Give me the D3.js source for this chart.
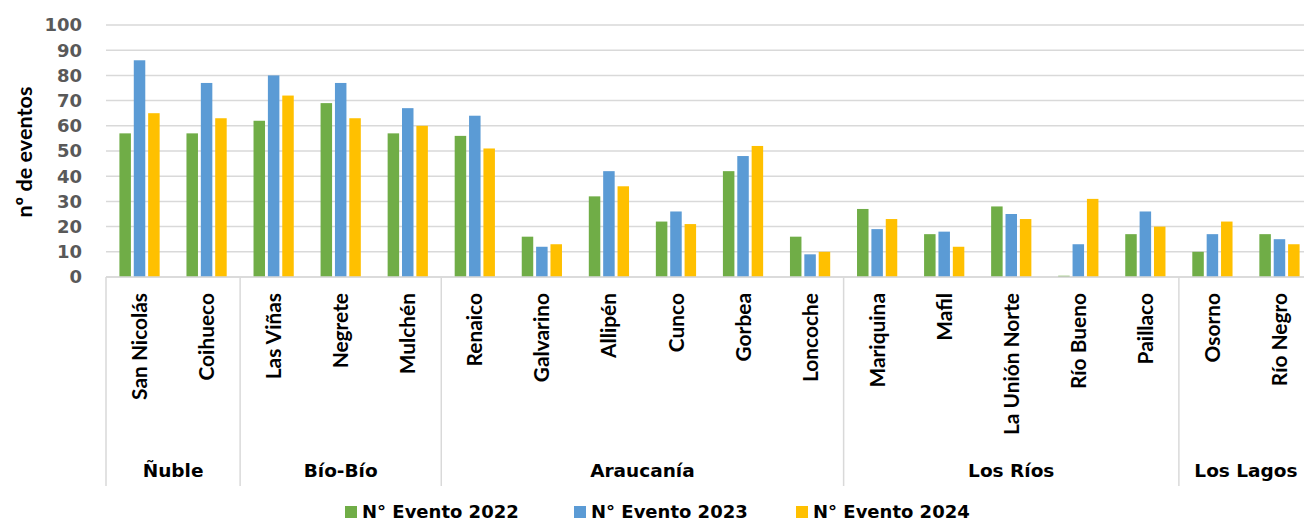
<!DOCTYPE html>
<html><head><meta charset="utf-8">
<script src="https://cdn.jsdelivr.net/npm/d3@7"></script>
<style>
body{margin:0;background:#fff;}
svg{display:block;}
.wide{font-family:"DejaVu Sans",sans-serif;font-weight:bold;}
.narrow{font-family:Lato,"Open Sans",sans-serif;font-weight:bold;}
</style></head>
<body><svg id="c" width="1304" height="523"></svg>
<script>
const categories = ["San Nicolás","Coihueco","Las Viñas","Negrete","Mulchén","Renaico","Galvarino","Allipén","Cunco","Gorbea","Loncoche","Mariquina","Mafil","La Unión Norte","Río Bueno","Paillaco","Osorno","Río Negro"];
const regions = [
  {name:"Ñuble", count:2},
  {name:"Bío-Bío", count:3},
  {name:"Araucanía", count:6},
  {name:"Los Ríos", count:5},
  {name:"Los Lagos", count:2}
];
const seriesNames = ["N° Evento 2022","N° Evento 2023","N° Evento 2024"];
const ev2022 = [57,57,62,69,57,56,16,32,22,42,16,27,17,28,0.5,17,10,17];
const ev2023 = [86,77,80,77,67,64,12,42,26,48,9,19,18,25,13,26,17,15];
const ev2024 = [65,63,72,63,60,51,13,36,21,52,10,23,12,23,31,20,22,13];
const yTicks = [0,10,20,30,40,50,60,70,80,90,100];
const colors = ["#70AD47","#5B9BD5","#FFC000"];
const series = [ev2022, ev2023, ev2024];

(function(){
const svg = d3.select("#c");
const mLeft = 106, mRight = 1313, mTop = 25, mBottom = 277;

const x = d3.scaleBand().domain(categories).range([mLeft, mRight]).paddingInner(0).paddingOuter(0);
const xs = d3.scaleBand().domain(d3.range(3)).range([x.bandwidth()*0.2, x.bandwidth()*0.8]).paddingInner(0.2).paddingOuter(0);
const y = d3.scaleLinear().domain([0,100]).range([mBottom, mTop]);

svg.append("g").selectAll("line").data(yTicks).join("line")
  .attr("x1", mLeft).attr("x2", 1304)
  .attr("y1", d=>y(d)).attr("y2", d=>y(d))
  .attr("stroke", "#d9d9d9").attr("stroke-width", 1.5);

svg.append("g").selectAll("text").data(yTicks).join("text")
  .attr("class","wide")
  .attr("x", 82).attr("y", d=>y(d)).attr("dy","0.36em")
  .attr("text-anchor","end").attr("font-size",18)
  .attr("fill","#595959").text(d=>d);

// y title: size so its length matches
const yt = svg.append("text").attr("class","narrow")
  .attr("transform","translate(24,152) rotate(-90)")
  .attr("text-anchor","middle").attr("dy","0.35em").attr("font-size",20)
  .attr("fill","#000").text("nº de eventos");
const ytl = yt.node().getComputedTextLength();
yt.attr("font-size", 20*131/ytl);

const g = svg.append("g");
series.forEach((s, si) => {
  g.selectAll(null).data(categories).join("rect")
    .attr("x", c => x(c) + xs(si))
    .attr("width", xs.bandwidth())
    .attr("y", (c,i) => y(s[i]))
    .attr("height", (c,i) => y(0) - y(s[i]))
    .attr("fill", colors[si]);
});

const cl = svg.append("g").selectAll("text").data(categories).join("text")
  .attr("class","narrow")
  .attr("transform", c => `translate(${x(c)+x.bandwidth()/2},293) rotate(-90)`)
  .attr("dy","0.36em")
  .attr("text-anchor","end").attr("font-size",20)
  .attr("fill","#000").text(c=>c);
const snl = cl.nodes()[0].getComputedTextLength();
cl.attr("font-size", 20*107/snl);

let idx = 0;
const bounds = [0];
regions.forEach(r => { idx += r.count; bounds.push(idx); });
svg.append("g").selectAll("line").data(bounds.slice(0, bounds.length-1)).join("line")
  .attr("x1", b => x(categories[b]))
  .attr("x2", b => x(categories[b]))
  .attr("y1", mBottom).attr("y2", 486)
  .attr("stroke","#d9d9d9").attr("stroke-width",1.5);
svg.append("g").selectAll("text").data(regions).join("text")
  .attr("class","wide")
  .attr("x", (r,i) => {
    const a = x(categories[bounds[i]]);
    const b = bounds[i+1] < categories.length ? x(categories[bounds[i+1]]) : mRight;
    return (a+b)/2;
  })
  .attr("y", 477)
  .attr("text-anchor","middle").attr("font-size",18.5)
  .attr("fill","#000").text(r=>r.name);

svg.append("line").attr("x1",mLeft).attr("x2",1304).attr("y1",mBottom).attr("y2",mBottom)
  .attr("stroke","#d9d9d9").attr("stroke-width",1.5);

const legX = [345, 574, 796];
const leg = svg.append("g").selectAll("g").data(seriesNames).join("g")
  .attr("transform",(d,i)=>`translate(${legX[i]},518)`);
leg.append("rect").attr("x",0).attr("y",-12).attr("width",12).attr("height",12)
  .attr("fill",(d,i)=>colors[i]);
leg.append("text").attr("class","wide").attr("x",17)
  .attr("font-size",18).attr("fill","#000").text(d=>d);
})();
</script></body></html>
